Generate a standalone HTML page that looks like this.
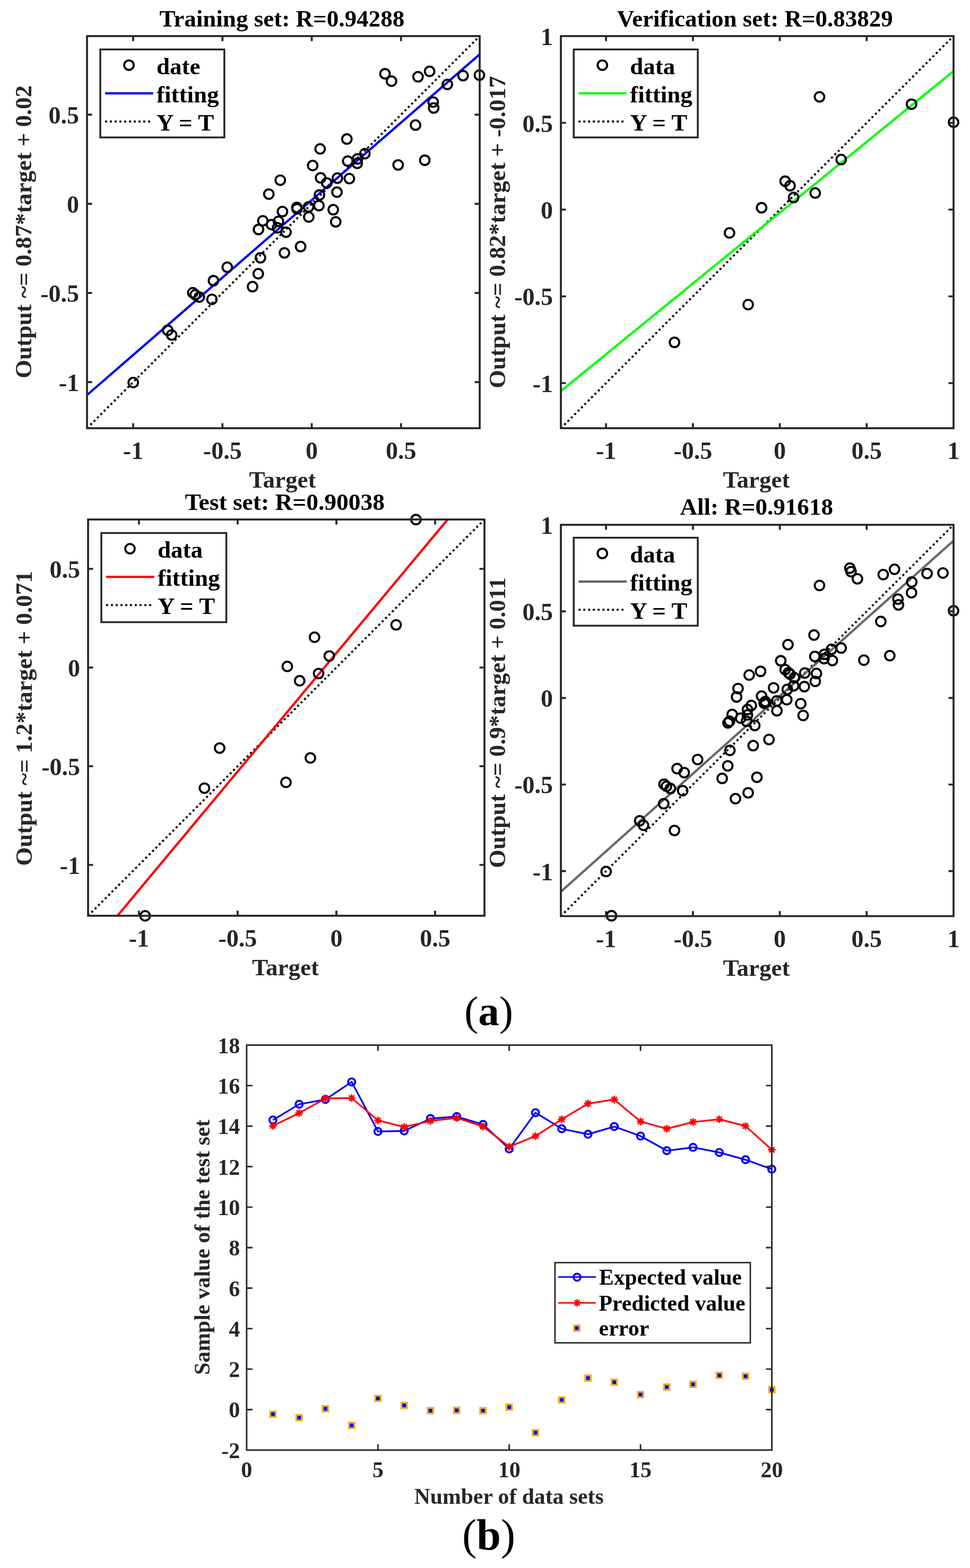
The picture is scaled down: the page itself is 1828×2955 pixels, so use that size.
<!DOCTYPE html><html><head><meta charset="utf-8"><title>Regression results</title><style>html,body{margin:0;padding:0;background:#fff}svg{display:block}text{font-family:"Liberation Serif","Times New Roman",serif;font-weight:bold}</style></head><body>
<svg width="1828" height="2955" viewBox="0 0 1828 2955">
<rect width="1828" height="2955" fill="#fff"/>
<clipPath id="c232"><rect x="164" y="68" width="740" height="739"/></clipPath>
<line x1="164" y1="807" x2="904" y2="68" stroke="#000" stroke-width="3.8" stroke-dasharray="3.8 5.2" clip-path="url(#c232)"/>
<line x1="164" y1="744.5" x2="904" y2="102.4" stroke="#0000ff" stroke-width="4.3" clip-path="url(#c232)"/>
<g fill="none" stroke="#000" stroke-width="3.8">
<circle cx="725.5" cy="139" r="9.0"/>
<circle cx="737.8" cy="152.9" r="9.0"/>
<circle cx="787.8" cy="144.7" r="9.0"/>
<circle cx="809.6" cy="134.4" r="9.0"/>
<circle cx="843" cy="159.1" r="9.0"/>
<circle cx="872.7" cy="142.6" r="9.0"/>
<circle cx="903.5" cy="141.6" r="9.0"/>
<circle cx="816.3" cy="192.3" r="9.0"/>
<circle cx="817.3" cy="203.5" r="9.0"/>
<circle cx="783.1" cy="235.7" r="9.0"/>
<circle cx="653.7" cy="262" r="9.0"/>
<circle cx="603.3" cy="280.6" r="9.0"/>
<circle cx="687.6" cy="289.6" r="9.0"/>
<circle cx="655.3" cy="303.6" r="9.0"/>
<circle cx="673.7" cy="299.5" r="9.0"/>
<circle cx="673.2" cy="307.8" r="9.0"/>
<circle cx="750.3" cy="310.8" r="9.0"/>
<circle cx="800.5" cy="302" r="9.0"/>
<circle cx="604.2" cy="335.2" r="9.0"/>
<circle cx="615.7" cy="344.8" r="9.0"/>
<circle cx="635.8" cy="335.7" r="9.0"/>
<circle cx="658.4" cy="336.6" r="9.0"/>
<circle cx="635" cy="362.1" r="9.0"/>
<circle cx="602" cy="367.5" r="9.0"/>
<circle cx="601" cy="387.5" r="9.0"/>
<circle cx="628" cy="395.2" r="9.0"/>
<circle cx="632.7" cy="418.1" r="9.0"/>
<circle cx="589.3" cy="311.9" r="9.0"/>
<circle cx="528.2" cy="339.6" r="9.0"/>
<circle cx="506.6" cy="365.8" r="9.0"/>
<circle cx="559.4" cy="391" r="9.0"/>
<circle cx="559.8" cy="393.5" r="9.0"/>
<circle cx="581.5" cy="389.8" r="9.0"/>
<circle cx="581.9" cy="408.9" r="9.0"/>
<circle cx="532.3" cy="398.7" r="9.0"/>
<circle cx="495.3" cy="416.1" r="9.0"/>
<circle cx="511.7" cy="423.3" r="9.0"/>
<circle cx="524.7" cy="417.1" r="9.0"/>
<circle cx="523" cy="429.4" r="9.0"/>
<circle cx="487.1" cy="432.5" r="9.0"/>
<circle cx="539" cy="437.6" r="9.0"/>
<circle cx="566.5" cy="464.7" r="9.0"/>
<circle cx="536" cy="476.6" r="9.0"/>
<circle cx="490.8" cy="485.8" r="9.0"/>
<circle cx="428.3" cy="503.6" r="9.0"/>
<circle cx="486.7" cy="515.9" r="9.0"/>
<circle cx="475.9" cy="540.2" r="9.0"/>
<circle cx="402.3" cy="529" r="9.0"/>
<circle cx="399.4" cy="564.1" r="9.0"/>
<circle cx="363.3" cy="551.6" r="9.0"/>
<circle cx="368" cy="555.6" r="9.0"/>
<circle cx="375.6" cy="559.8" r="9.0"/>
<circle cx="316.1" cy="622.5" r="9.0"/>
<circle cx="323.5" cy="631.3" r="9.0"/>
<circle cx="251.1" cy="720.9" r="9.0"/>
</g>
<path d="M250.99 807V797.5M250.99 68V77.5M419.24 807V797.5M419.24 68V77.5M587.49 807V797.5M587.49 68V77.5M755.74 807V797.5M755.74 68V77.5M164 720.13H173.5M904 720.13H894.5M164 552.11H173.5M904 552.11H894.5M164 384.09H173.5M904 384.09H894.5M164 216.06H173.5M904 216.06H894.5" stroke="#262626" stroke-width="3.7" fill="none"/>
<rect x="164" y="68" width="740" height="739" fill="none" stroke="#262626" stroke-width="3.7"/>
<g fill="#262626" font-size="46">
<text x="250.99" y="865" text-anchor="middle">-1</text>
<text x="419.24" y="865" text-anchor="middle">-0.5</text>
<text x="587.49" y="865" text-anchor="middle">0</text>
<text x="755.74" y="865" text-anchor="middle">0.5</text>
<text x="149" y="737.13" text-anchor="end">-1</text>
<text x="149" y="569.11" text-anchor="end">-0.5</text>
<text x="149" y="401.09" text-anchor="end">0</text>
<text x="149" y="233.06" text-anchor="end">0.5</text>
<text x="532.5" y="919" text-anchor="middle" font-size="45">Target</text>
<text font-size="45" transform="translate(59 436.9) rotate(-90)" text-anchor="middle" textLength="552" lengthAdjust="spacingAndGlyphs">Output ~= 0.87*target + 0.02</text>
</g>
<text x="300.5" y="50.3" font-size="45" fill="#000" textLength="461.7" lengthAdjust="spacingAndGlyphs">Training set: R=0.94288</text>
<rect x="189" y="93.2" width="233.8" height="165.8" fill="#fff" stroke="#262626" stroke-width="3.5"/>
<circle cx="243" cy="122.8" r="9.0" fill="none" stroke="#000" stroke-width="3.8"/>
<line x1="198" y1="175.8" x2="288.7" y2="175.8" stroke="#0000ff" stroke-width="4.3"/>
<line x1="198" y1="229" x2="285" y2="229" stroke="#000" stroke-width="3.8" stroke-dasharray="3.8 5.2"/>
<g font-size="45" fill="#000">
<text x="295" y="139.7">date</text>
<text x="295" y="192.7">fitting</text>
<text x="295" y="245.8">Y = T</text>
</g>
<clipPath id="c1125"><rect x="1057" y="68" width="740" height="739"/></clipPath>
<line x1="1057" y1="807" x2="1797" y2="68" stroke="#000" stroke-width="3.8" stroke-dasharray="3.8 5.2" clip-path="url(#c1125)"/>
<line x1="1057" y1="737" x2="1797" y2="134" stroke="#00ff00" stroke-width="4.3" clip-path="url(#c1125)"/>
<g fill="none" stroke="#000" stroke-width="3.8">
<circle cx="1544.4" cy="182.6" r="9.0"/>
<circle cx="1717.8" cy="196.3" r="9.0"/>
<circle cx="1797" cy="230.4" r="9.0"/>
<circle cx="1585.2" cy="300.7" r="9.0"/>
<circle cx="1479.6" cy="341.5" r="9.0"/>
<circle cx="1488.9" cy="350" r="9.0"/>
<circle cx="1495.6" cy="372.2" r="9.0"/>
<circle cx="1536.3" cy="363.7" r="9.0"/>
<circle cx="1435.2" cy="391.5" r="9.0"/>
<circle cx="1374.8" cy="438.9" r="9.0"/>
<circle cx="1410" cy="574.1" r="9.0"/>
<circle cx="1271.1" cy="645.2" r="9.0"/>
</g>
<path d="M1142.13 807V797.5M1142.13 68V77.5M1305.85 807V797.5M1305.85 68V77.5M1469.57 807V797.5M1469.57 68V77.5M1633.28 807V797.5M1633.28 68V77.5M1057 721.98H1066.5M1797 721.98H1787.5M1057 558.49H1066.5M1797 558.49H1787.5M1057 394.99H1066.5M1797 394.99H1787.5M1057 231.5H1066.5M1797 231.5H1787.5" stroke="#262626" stroke-width="3.7" fill="none"/>
<rect x="1057" y="68" width="740" height="739" fill="none" stroke="#262626" stroke-width="3.7"/>
<g fill="#262626" font-size="46">
<text x="1142.13" y="865" text-anchor="middle">-1</text>
<text x="1305.85" y="865" text-anchor="middle">-0.5</text>
<text x="1469.57" y="865" text-anchor="middle">0</text>
<text x="1633.28" y="865" text-anchor="middle">0.5</text>
<text x="1797" y="865" text-anchor="middle">1</text>
<text x="1042" y="738.98" text-anchor="end">-1</text>
<text x="1042" y="575.49" text-anchor="end">-0.5</text>
<text x="1042" y="411.99" text-anchor="end">0</text>
<text x="1042" y="248.5" text-anchor="end">0.5</text>
<text x="1042" y="85" text-anchor="end">1</text>
<text x="1425.5" y="919" text-anchor="middle" font-size="45">Target</text>
<text font-size="45" transform="translate(952 437.4) rotate(-90)" text-anchor="middle" textLength="588.8" lengthAdjust="spacingAndGlyphs">Output ~= 0.82*target + -0.017</text>
</g>
<text x="1162.8" y="50" font-size="45" fill="#000" textLength="520" lengthAdjust="spacingAndGlyphs">Verification set: R=0.83829</text>
<rect x="1081.2" y="93.2" width="233.8" height="165.8" fill="#fff" stroke="#262626" stroke-width="3.5"/>
<circle cx="1135.2" cy="122.8" r="9.0" fill="none" stroke="#000" stroke-width="3.8"/>
<line x1="1090.2" y1="175.8" x2="1180.9" y2="175.8" stroke="#00ff00" stroke-width="4.3"/>
<line x1="1090.2" y1="229" x2="1177.2" y2="229" stroke="#000" stroke-width="3.8" stroke-dasharray="3.8 5.2"/>
<g font-size="45" fill="#000">
<text x="1187.2" y="139.7">data</text>
<text x="1187.2" y="192.7">fitting</text>
<text x="1187.2" y="245.8">Y = T</text>
</g>
<clipPath id="c1145"><rect x="166" y="979" width="747" height="746.8"/></clipPath>
<line x1="166" y1="1725.8" x2="913" y2="979" stroke="#000" stroke-width="3.8" stroke-dasharray="3.8 5.2" clip-path="url(#c1145)"/>
<line x1="221.4" y1="1725.8" x2="843.6" y2="979" stroke="#ff0000" stroke-width="4.3" clip-path="url(#c1145)"/>
<g fill="none" stroke="#000" stroke-width="3.8">
<circle cx="783.9" cy="979.2" r="9.0"/>
<circle cx="746.5" cy="1177.6" r="9.0"/>
<circle cx="592.7" cy="1200.9" r="9.0"/>
<circle cx="620.6" cy="1236.3" r="9.0"/>
<circle cx="541.4" cy="1255.9" r="9.0"/>
<circle cx="600.4" cy="1269.3" r="9.0"/>
<circle cx="564.7" cy="1282.9" r="9.0"/>
<circle cx="413.9" cy="1409.8" r="9.0"/>
<circle cx="584.9" cy="1428.4" r="9.0"/>
<circle cx="385.3" cy="1485.3" r="9.0"/>
<circle cx="538.9" cy="1474.4" r="9.0"/>
<circle cx="273.5" cy="1725.9" r="9.0"/>
</g>
<path d="M261.82 1725.8V1716.3M261.82 979V988.5M447.87 1725.8V1716.3M447.87 979V988.5M633.92 1725.8V1716.3M633.92 979V988.5M819.97 1725.8V1716.3M819.97 979V988.5M166 1630.01H175.5M913 1630.01H903.5M166 1444.01H175.5M913 1444.01H903.5M166 1258H175.5M913 1258H903.5M166 1072H175.5M913 1072H903.5" stroke="#262626" stroke-width="3.7" fill="none"/>
<rect x="166" y="979" width="747" height="746.8" fill="none" stroke="#262626" stroke-width="3.7"/>
<g fill="#262626" font-size="46">
<text x="261.82" y="1783.8" text-anchor="middle">-1</text>
<text x="447.87" y="1783.8" text-anchor="middle">-0.5</text>
<text x="633.92" y="1783.8" text-anchor="middle">0</text>
<text x="819.97" y="1783.8" text-anchor="middle">0.5</text>
<text x="151" y="1647.01" text-anchor="end">-1</text>
<text x="151" y="1461.01" text-anchor="end">-0.5</text>
<text x="151" y="1275" text-anchor="end">0</text>
<text x="151" y="1089" text-anchor="end">0.5</text>
<text x="538" y="1837.8" text-anchor="middle" font-size="45">Target</text>
<text font-size="45" transform="translate(59.5 1353.9) rotate(-90)" text-anchor="middle" textLength="555.8" lengthAdjust="spacingAndGlyphs">Output ~= 1.2*target + 0.071</text>
</g>
<text x="348.4" y="960.8" font-size="45" fill="#000" textLength="376.5" lengthAdjust="spacingAndGlyphs">Test set: R=0.90038</text>
<rect x="191" y="1004.5" width="235.5" height="168" fill="#fff" stroke="#262626" stroke-width="3.5"/>
<circle cx="245" cy="1034.1" r="9.0" fill="none" stroke="#000" stroke-width="3.8"/>
<line x1="200" y1="1087.1" x2="290.7" y2="1087.1" stroke="#ff0000" stroke-width="4.3"/>
<line x1="200" y1="1140.3" x2="287" y2="1140.3" stroke="#000" stroke-width="3.8" stroke-dasharray="3.8 5.2"/>
<g font-size="45" fill="#000">
<text x="297" y="1051">data</text>
<text x="297" y="1104">fitting</text>
<text x="297" y="1157.1">Y = T</text>
</g>
<clipPath id="c2046"><rect x="1057" y="989" width="740" height="737.5"/></clipPath>
<line x1="1057" y1="1726.5" x2="1797" y2="989" stroke="#000" stroke-width="3.8" stroke-dasharray="3.8 5.2" clip-path="url(#c2046)"/>
<line x1="1057" y1="1680.5" x2="1797" y2="1019" stroke="#666666" stroke-width="4.3" clip-path="url(#c2046)"/>
<g fill="none" stroke="#000" stroke-width="3.8">
<circle cx="1603.86" cy="1077.33" r="9.0"/>
<circle cx="1615.83" cy="1090.83" r="9.0"/>
<circle cx="1664.48" cy="1082.87" r="9.0"/>
<circle cx="1685.69" cy="1072.86" r="9.0"/>
<circle cx="1718.19" cy="1096.85" r="9.0"/>
<circle cx="1747.09" cy="1080.83" r="9.0"/>
<circle cx="1777.06" cy="1079.86" r="9.0"/>
<circle cx="1692.21" cy="1129.09" r="9.0"/>
<circle cx="1693.19" cy="1139.96" r="9.0"/>
<circle cx="1659.91" cy="1171.23" r="9.0"/>
<circle cx="1534" cy="1196.77" r="9.0"/>
<circle cx="1484.95" cy="1214.84" r="9.0"/>
<circle cx="1566.98" cy="1223.57" r="9.0"/>
<circle cx="1535.55" cy="1237.17" r="9.0"/>
<circle cx="1553.46" cy="1233.19" r="9.0"/>
<circle cx="1552.97" cy="1241.25" r="9.0"/>
<circle cx="1627.99" cy="1244.16" r="9.0"/>
<circle cx="1676.84" cy="1235.62" r="9.0"/>
<circle cx="1485.83" cy="1267.86" r="9.0"/>
<circle cx="1497.02" cy="1277.18" r="9.0"/>
<circle cx="1516.58" cy="1268.34" r="9.0"/>
<circle cx="1538.57" cy="1269.22" r="9.0"/>
<circle cx="1515.8" cy="1293.98" r="9.0"/>
<circle cx="1483.69" cy="1299.22" r="9.0"/>
<circle cx="1482.72" cy="1318.64" r="9.0"/>
<circle cx="1508.99" cy="1326.12" r="9.0"/>
<circle cx="1513.56" cy="1348.36" r="9.0"/>
<circle cx="1471.33" cy="1245.23" r="9.0"/>
<circle cx="1411.88" cy="1272.13" r="9.0"/>
<circle cx="1390.86" cy="1297.57" r="9.0"/>
<circle cx="1442.24" cy="1322.04" r="9.0"/>
<circle cx="1442.63" cy="1324.47" r="9.0"/>
<circle cx="1463.74" cy="1320.88" r="9.0"/>
<circle cx="1464.13" cy="1339.42" r="9.0"/>
<circle cx="1415.87" cy="1329.52" r="9.0"/>
<circle cx="1379.86" cy="1346.42" r="9.0"/>
<circle cx="1395.82" cy="1353.41" r="9.0"/>
<circle cx="1408.47" cy="1347.39" r="9.0"/>
<circle cx="1406.82" cy="1359.33" r="9.0"/>
<circle cx="1371.88" cy="1362.34" r="9.0"/>
<circle cx="1422.39" cy="1367.29" r="9.0"/>
<circle cx="1449.15" cy="1393.61" r="9.0"/>
<circle cx="1419.47" cy="1405.17" r="9.0"/>
<circle cx="1375.48" cy="1414.1" r="9.0"/>
<circle cx="1314.67" cy="1431.39" r="9.0"/>
<circle cx="1371.5" cy="1443.33" r="9.0"/>
<circle cx="1360.99" cy="1466.93" r="9.0"/>
<circle cx="1289.37" cy="1456.05" r="9.0"/>
<circle cx="1286.55" cy="1490.14" r="9.0"/>
<circle cx="1251.42" cy="1478" r="9.0"/>
<circle cx="1255.99" cy="1481.88" r="9.0"/>
<circle cx="1263.39" cy="1485.96" r="9.0"/>
<circle cx="1205.49" cy="1546.85" r="9.0"/>
<circle cx="1212.69" cy="1555.39" r="9.0"/>
<circle cx="1142.24" cy="1642.4" r="9.0"/>
<circle cx="1544.4" cy="1103.37" r="9.0"/>
<circle cx="1717.8" cy="1117.04" r="9.0"/>
<circle cx="1797" cy="1151.07" r="9.0"/>
<circle cx="1585.2" cy="1221.23" r="9.0"/>
<circle cx="1479.6" cy="1261.94" r="9.0"/>
<circle cx="1488.9" cy="1270.43" r="9.0"/>
<circle cx="1495.6" cy="1292.58" r="9.0"/>
<circle cx="1536.3" cy="1284.1" r="9.0"/>
<circle cx="1435.2" cy="1311.84" r="9.0"/>
<circle cx="1374.8" cy="1359.15" r="9.0"/>
<circle cx="1410" cy="1494.07" r="9.0"/>
<circle cx="1271.1" cy="1565.03" r="9.0"/>
<circle cx="1601.54" cy="1070.76" r="9.0"/>
<circle cx="1568.63" cy="1244.8" r="9.0"/>
<circle cx="1433.29" cy="1265.24" r="9.0"/>
<circle cx="1457.84" cy="1296.29" r="9.0"/>
<circle cx="1388.15" cy="1313.48" r="9.0"/>
<circle cx="1440.07" cy="1325.24" r="9.0"/>
<circle cx="1408.65" cy="1337.17" r="9.0"/>
<circle cx="1275.96" cy="1448.49" r="9.0"/>
<circle cx="1426.43" cy="1464.8" r="9.0"/>
<circle cx="1250.79" cy="1514.71" r="9.0"/>
<circle cx="1385.95" cy="1505.15" r="9.0"/>
<circle cx="1152.41" cy="1725.77" r="9.0"/>
</g>
<path d="M1142.13 1726.5V1717M1142.13 989V998.5M1305.85 1726.5V1717M1305.85 989V998.5M1469.57 1726.5V1717M1469.57 989V998.5M1633.28 1726.5V1717M1633.28 989V998.5M1057 1641.65H1066.5M1797 1641.65H1787.5M1057 1478.49H1066.5M1797 1478.49H1787.5M1057 1315.33H1066.5M1797 1315.33H1787.5M1057 1152.16H1066.5M1797 1152.16H1787.5" stroke="#262626" stroke-width="3.7" fill="none"/>
<rect x="1057" y="989" width="740" height="737.5" fill="none" stroke="#262626" stroke-width="3.7"/>
<g fill="#262626" font-size="46">
<text x="1142.13" y="1784.5" text-anchor="middle">-1</text>
<text x="1305.85" y="1784.5" text-anchor="middle">-0.5</text>
<text x="1469.57" y="1784.5" text-anchor="middle">0</text>
<text x="1633.28" y="1784.5" text-anchor="middle">0.5</text>
<text x="1797" y="1784.5" text-anchor="middle">1</text>
<text x="1042" y="1658.65" text-anchor="end">-1</text>
<text x="1042" y="1495.49" text-anchor="end">-0.5</text>
<text x="1042" y="1332.33" text-anchor="end">0</text>
<text x="1042" y="1169.16" text-anchor="end">0.5</text>
<text x="1042" y="1006" text-anchor="end">1</text>
<text x="1425.5" y="1838.5" text-anchor="middle" font-size="45">Target</text>
<text font-size="45" transform="translate(952 1361.95) rotate(-90)" text-anchor="middle" textLength="547.5" lengthAdjust="spacingAndGlyphs">Output ~= 0.9*target + 0.011</text>
</g>
<text x="1281.4" y="969.7" font-size="45" fill="#000" textLength="288.6" lengthAdjust="spacingAndGlyphs">All: R=0.91618</text>
<rect x="1081.2" y="1013.4" width="233.8" height="165.8" fill="#fff" stroke="#262626" stroke-width="3.5"/>
<circle cx="1135.2" cy="1043" r="9.0" fill="none" stroke="#000" stroke-width="3.8"/>
<line x1="1090.2" y1="1096" x2="1180.9" y2="1096" stroke="#666666" stroke-width="4.3"/>
<line x1="1090.2" y1="1149.2" x2="1177.2" y2="1149.2" stroke="#000" stroke-width="3.8" stroke-dasharray="3.8 5.2"/>
<g font-size="45" fill="#000">
<text x="1187.2" y="1059.9">data</text>
<text x="1187.2" y="1112.9">fitting</text>
<text x="1187.2" y="1166">Y = T</text>
</g>
<polyline points="514.28,2110.8 563.77,2081 613.25,2072.1 662.74,2039 712.23,2132.3 761.71,2131.3 811.19,2108.1 860.68,2104.2 910.16,2119 959.65,2165.2 1009.13,2097 1058.62,2127.2 1108.11,2137.6 1157.59,2123.1 1207.08,2141 1256.56,2168.5 1306.05,2162.3 1355.53,2171.9 1405.02,2185.6 1454.5,2203.5" fill="none" stroke="#0000ff" stroke-width="3.2" stroke-linejoin="round"/>
<g fill="none" stroke="#0000ff" stroke-width="3.7">
<circle cx="514.28" cy="2110.8" r="6.65"/>
<circle cx="563.77" cy="2081" r="6.65"/>
<circle cx="613.25" cy="2072.1" r="6.65"/>
<circle cx="662.74" cy="2039" r="6.65"/>
<circle cx="712.23" cy="2132.3" r="6.65"/>
<circle cx="761.71" cy="2131.3" r="6.65"/>
<circle cx="811.19" cy="2108.1" r="6.65"/>
<circle cx="860.68" cy="2104.2" r="6.65"/>
<circle cx="910.16" cy="2119" r="6.65"/>
<circle cx="959.65" cy="2165.2" r="6.65"/>
<circle cx="1009.13" cy="2097" r="6.65"/>
<circle cx="1058.62" cy="2127.2" r="6.65"/>
<circle cx="1108.11" cy="2137.6" r="6.65"/>
<circle cx="1157.59" cy="2123.1" r="6.65"/>
<circle cx="1207.08" cy="2141" r="6.65"/>
<circle cx="1256.56" cy="2168.5" r="6.65"/>
<circle cx="1306.05" cy="2162.3" r="6.65"/>
<circle cx="1355.53" cy="2171.9" r="6.65"/>
<circle cx="1405.02" cy="2185.6" r="6.65"/>
<circle cx="1454.5" cy="2203.5" r="6.65"/>
</g>
<polyline points="514.28,2121.7 563.77,2097.6 613.25,2070.1 662.74,2069.4 712.23,2111.4 761.71,2124 811.19,2112.4 860.68,2106.8 910.16,2123 959.65,2161 1009.13,2141 1058.62,2109.4 1108.11,2079.8 1157.59,2072.2 1207.08,2113.5 1256.56,2127.2 1306.05,2114.5 1355.53,2109.4 1405.02,2122.1 1454.5,2166.8" fill="none" stroke="#ff0000" stroke-width="3.2" stroke-linejoin="round"/>
<path d="M514.28 2114.5v14.4M507.08 2121.7h14.4M509.18 2116.6l10.2 10.2M509.18 2126.8l10.2 -10.2" stroke="#ff0000" stroke-width="2.9" fill="none"/>
<path d="M563.77 2090.4v14.4M556.57 2097.6h14.4M558.67 2092.5l10.2 10.2M558.67 2102.7l10.2 -10.2" stroke="#ff0000" stroke-width="2.9" fill="none"/>
<path d="M613.25 2062.9v14.4M606.05 2070.1h14.4M608.15 2065l10.2 10.2M608.15 2075.2l10.2 -10.2" stroke="#ff0000" stroke-width="2.9" fill="none"/>
<path d="M662.74 2062.2v14.4M655.54 2069.4h14.4M657.64 2064.3l10.2 10.2M657.64 2074.5l10.2 -10.2" stroke="#ff0000" stroke-width="2.9" fill="none"/>
<path d="M712.23 2104.2v14.4M705.02 2111.4h14.4M707.12 2106.3l10.2 10.2M707.12 2116.5l10.2 -10.2" stroke="#ff0000" stroke-width="2.9" fill="none"/>
<path d="M761.71 2116.8v14.4M754.51 2124h14.4M756.61 2118.9l10.2 10.2M756.61 2129.1l10.2 -10.2" stroke="#ff0000" stroke-width="2.9" fill="none"/>
<path d="M811.19 2105.2v14.4M803.99 2112.4h14.4M806.09 2107.3l10.2 10.2M806.09 2117.5l10.2 -10.2" stroke="#ff0000" stroke-width="2.9" fill="none"/>
<path d="M860.68 2099.6v14.4M853.48 2106.8h14.4M855.58 2101.7l10.2 10.2M855.58 2111.9l10.2 -10.2" stroke="#ff0000" stroke-width="2.9" fill="none"/>
<path d="M910.16 2115.8v14.4M902.96 2123h14.4M905.06 2117.9l10.2 10.2M905.06 2128.1l10.2 -10.2" stroke="#ff0000" stroke-width="2.9" fill="none"/>
<path d="M959.65 2153.8v14.4M952.45 2161h14.4M954.55 2155.9l10.2 10.2M954.55 2166.1l10.2 -10.2" stroke="#ff0000" stroke-width="2.9" fill="none"/>
<path d="M1009.13 2133.8v14.4M1001.93 2141h14.4M1004.03 2135.9l10.2 10.2M1004.03 2146.1l10.2 -10.2" stroke="#ff0000" stroke-width="2.9" fill="none"/>
<path d="M1058.62 2102.2v14.4M1051.42 2109.4h14.4M1053.52 2104.3l10.2 10.2M1053.52 2114.5l10.2 -10.2" stroke="#ff0000" stroke-width="2.9" fill="none"/>
<path d="M1108.11 2072.6v14.4M1100.9 2079.8h14.4M1103.01 2074.7l10.2 10.2M1103.01 2084.9l10.2 -10.2" stroke="#ff0000" stroke-width="2.9" fill="none"/>
<path d="M1157.59 2065v14.4M1150.39 2072.2h14.4M1152.49 2067.1l10.2 10.2M1152.49 2077.3l10.2 -10.2" stroke="#ff0000" stroke-width="2.9" fill="none"/>
<path d="M1207.08 2106.3v14.4M1199.88 2113.5h14.4M1201.98 2108.4l10.2 10.2M1201.98 2118.6l10.2 -10.2" stroke="#ff0000" stroke-width="2.9" fill="none"/>
<path d="M1256.56 2120v14.4M1249.36 2127.2h14.4M1251.46 2122.1l10.2 10.2M1251.46 2132.3l10.2 -10.2" stroke="#ff0000" stroke-width="2.9" fill="none"/>
<path d="M1306.05 2107.3v14.4M1298.85 2114.5h14.4M1300.95 2109.4l10.2 10.2M1300.95 2119.6l10.2 -10.2" stroke="#ff0000" stroke-width="2.9" fill="none"/>
<path d="M1355.53 2102.2v14.4M1348.33 2109.4h14.4M1350.43 2104.3l10.2 10.2M1350.43 2114.5l10.2 -10.2" stroke="#ff0000" stroke-width="2.9" fill="none"/>
<path d="M1405.02 2114.9v14.4M1397.82 2122.1h14.4M1399.92 2117l10.2 10.2M1399.92 2127.2l10.2 -10.2" stroke="#ff0000" stroke-width="2.9" fill="none"/>
<path d="M1454.5 2159.6v14.4M1447.3 2166.8h14.4M1449.4 2161.7l10.2 10.2M1449.4 2171.9l10.2 -10.2" stroke="#ff0000" stroke-width="2.9" fill="none"/>
<rect x="509.08" y="2660" width="10.4" height="10.4" fill="#0000ff" stroke="#edb120" stroke-width="3.5"/>
<rect x="558.57" y="2666.6" width="10.4" height="10.4" fill="#0000ff" stroke="#edb120" stroke-width="3.5"/>
<rect x="608.05" y="2649.7" width="10.4" height="10.4" fill="#0000ff" stroke="#edb120" stroke-width="3.5"/>
<rect x="657.54" y="2681.1" width="10.4" height="10.4" fill="#0000ff" stroke="#edb120" stroke-width="3.5"/>
<rect x="707.02" y="2630.2" width="10.4" height="10.4" fill="#0000ff" stroke="#edb120" stroke-width="3.5"/>
<rect x="756.51" y="2643.4" width="10.4" height="10.4" fill="#0000ff" stroke="#edb120" stroke-width="3.5"/>
<rect x="805.99" y="2653.3" width="10.4" height="10.4" fill="#0000ff" stroke="#edb120" stroke-width="3.5"/>
<rect x="855.48" y="2652.7" width="10.4" height="10.4" fill="#0000ff" stroke="#edb120" stroke-width="3.5"/>
<rect x="904.96" y="2653.3" width="10.4" height="10.4" fill="#0000ff" stroke="#edb120" stroke-width="3.5"/>
<rect x="954.45" y="2646.7" width="10.4" height="10.4" fill="#0000ff" stroke="#edb120" stroke-width="3.5"/>
<rect x="1003.93" y="2694.8" width="10.4" height="10.4" fill="#0000ff" stroke="#edb120" stroke-width="3.5"/>
<rect x="1053.42" y="2633" width="10.4" height="10.4" fill="#0000ff" stroke="#edb120" stroke-width="3.5"/>
<rect x="1102.9" y="2591.9" width="10.4" height="10.4" fill="#0000ff" stroke="#edb120" stroke-width="3.5"/>
<rect x="1152.39" y="2599.7" width="10.4" height="10.4" fill="#0000ff" stroke="#edb120" stroke-width="3.5"/>
<rect x="1201.88" y="2622.9" width="10.4" height="10.4" fill="#0000ff" stroke="#edb120" stroke-width="3.5"/>
<rect x="1251.36" y="2608.8" width="10.4" height="10.4" fill="#0000ff" stroke="#edb120" stroke-width="3.5"/>
<rect x="1300.85" y="2603.7" width="10.4" height="10.4" fill="#0000ff" stroke="#edb120" stroke-width="3.5"/>
<rect x="1350.33" y="2586.8" width="10.4" height="10.4" fill="#0000ff" stroke="#edb120" stroke-width="3.5"/>
<rect x="1399.82" y="2588.5" width="10.4" height="10.4" fill="#0000ff" stroke="#edb120" stroke-width="3.5"/>
<rect x="1449.3" y="2613.8" width="10.4" height="10.4" fill="#0000ff" stroke="#edb120" stroke-width="3.5"/>
<path d="M712.23 2732.8V2721.8M712.23 1969.6V1980.6M959.65 2732.8V2721.8M959.65 1969.6V1980.6M1207.08 2732.8V2721.8M1207.08 1969.6V1980.6M464.8 2656.48H475.8M1454.5 2656.48H1443.5M464.8 2580.16H475.8M1454.5 2580.16H1443.5M464.8 2503.84H475.8M1454.5 2503.84H1443.5M464.8 2427.52H475.8M1454.5 2427.52H1443.5M464.8 2351.2H475.8M1454.5 2351.2H1443.5M464.8 2274.88H475.8M1454.5 2274.88H1443.5M464.8 2198.56H475.8M1454.5 2198.56H1443.5M464.8 2122.24H475.8M1454.5 2122.24H1443.5M464.8 2045.92H475.8M1454.5 2045.92H1443.5" stroke="#262626" stroke-width="2.9" fill="none"/>
<rect x="464.8" y="1969.6" width="989.7" height="763.2" fill="none" stroke="#262626" stroke-width="2.9"/>
<g fill="#262626" font-size="42">
<text x="464.8" y="2783.8" text-anchor="middle">0</text>
<text x="712.23" y="2783.8" text-anchor="middle">5</text>
<text x="959.65" y="2783.8" text-anchor="middle">10</text>
<text x="1207.08" y="2783.8" text-anchor="middle">15</text>
<text x="1454.5" y="2783.8" text-anchor="middle">20</text>
<text x="452.3" y="2747.8" text-anchor="end">-2</text>
<text x="452.3" y="2671.48" text-anchor="end">0</text>
<text x="452.3" y="2595.16" text-anchor="end">2</text>
<text x="452.3" y="2518.84" text-anchor="end">4</text>
<text x="452.3" y="2442.52" text-anchor="end">6</text>
<text x="452.3" y="2366.2" text-anchor="end">8</text>
<text x="452.3" y="2289.88" text-anchor="end">10</text>
<text x="452.3" y="2213.56" text-anchor="end">12</text>
<text x="452.3" y="2137.24" text-anchor="end">14</text>
<text x="452.3" y="2060.92" text-anchor="end">16</text>
<text x="452.3" y="1984.6" text-anchor="end">18</text>
<text x="959.2" y="2833.9" text-anchor="middle" textLength="357" lengthAdjust="spacingAndGlyphs">Number of data sets</text>
<text transform="translate(394.9 2350.4) rotate(-90)" text-anchor="middle" textLength="481" lengthAdjust="spacingAndGlyphs">Sample value of the test set</text>
</g>
<rect x="1045.9" y="2379.5" width="368.1" height="151.2" fill="#fff" stroke="#262626" stroke-width="2.7"/>
<line x1="1052" y1="2406.6" x2="1123" y2="2406.6" stroke="#0000ff" stroke-width="2.9"/>
<circle cx="1087.5" cy="2407" r="6.65" fill="none" stroke="#0000ff" stroke-width="3.7"/>
<line x1="1052" y1="2455.4" x2="1123" y2="2455.4" stroke="#ff0000" stroke-width="2.9"/>
<path d="M1087.6 2448.2v14.4M1080.4 2455.4h14.4M1082.5 2450.3l10.2 10.2M1082.5 2460.5l10.2 -10.2" stroke="#ff0000" stroke-width="2.9" fill="none"/>
<rect x="1081.8" y="2497.8" width="10.4" height="10.4" fill="#0000ff" stroke="#edb120" stroke-width="3.5"/>
<g font-size="42" fill="#000">
<text x="1129" y="2421.4" textLength="269" lengthAdjust="spacingAndGlyphs">Expected value</text>
<text x="1128.5" y="2469.6" textLength="276" lengthAdjust="spacingAndGlyphs">Predicted value</text>
<text x="1128.5" y="2517.2">error</text>
</g>
<text x="921" y="1932" text-anchor="middle" font-size="79" fill="#000"><tspan font-weight="normal">(</tspan>a<tspan font-weight="normal">)</tspan></text>
<text x="921" y="2920" text-anchor="middle" font-size="82" fill="#000"><tspan font-weight="normal">(</tspan>b<tspan font-weight="normal">)</tspan></text>
</svg></body></html>
